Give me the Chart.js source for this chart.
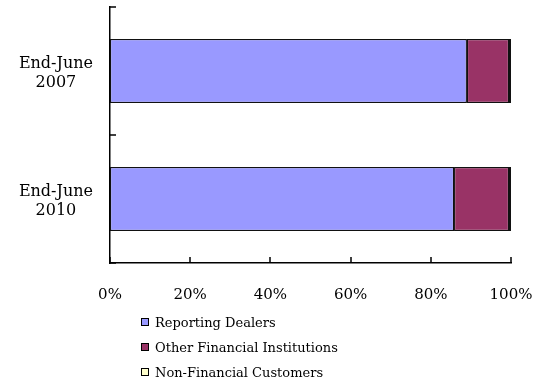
<!DOCTYPE html>
<html>
<head>
<meta charset="utf-8">
<script src="https://cdn.jsdelivr.net/npm/chart.js@4"></script>
<style>
  html, body { margin: 0; padding: 0; background: #fff; }
  #wrap { position: relative; width: 542px; height: 383px; }
  #legend { position: absolute; left: 141px; top: 313px; font: 13px "DejaVu Serif", serif; color: #000; }
  #legend div { height: 25px; line-height: 20px; white-space: nowrap; }
  #legend span { display: inline-block; width: 6px; height: 6px; border: 1px solid #000; margin-right: 6px; vertical-align: 1px; }
</style>
</head>
<body>
<div id="wrap">
  <canvas id="chart" width="542" height="383"></canvas>
  <div id="legend"></div>
</div>
<script>
/* ---------- data ---------- */
const periods = [["End-June", "2007"], ["End-June", "2010"]];
const seriesNames = ["Reporting Dealers", "Other Financial Institutions", "Non-Financial Customers"];
const reportingDealers = [89.0, 85.8];
const otherFinancial = [10.5, 13.7];
const nonFinancial = [0.5, 0.5];
const xTicks = [0, 20, 40, 60, 80, 100];
const colors = ["#9999FF", "#993366", "#FFFFCC"];

/* ---------- inward tick marks ---------- */
const innerTicks = {
  id: "innerTicks",
  afterDraw(chart) {
    const ctx = chart.ctx;
    const a = chart.chartArea;
    const x = chart.scales.x;
    ctx.save();
    ctx.strokeStyle = "#000";
    ctx.lineWidth = 1.5;
    ctx.beginPath();
    xTicks.forEach(v => {
      const px = Math.round(x.getPixelForValue(v));
      ctx.moveTo(px, a.bottom);
      ctx.lineTo(px, a.bottom - 6);
    });
    // category boundaries on the y axis
    const step = (a.bottom - a.top) / periods.length;
    for (let i = 0; i <= periods.length; i++) {
      const py = Math.round(a.top + i * step);
      ctx.moveTo(a.left, py);
      ctx.lineTo(a.left + 6, py);
    }
    ctx.stroke();
    ctx.restore();
  }
};

const data = [reportingDealers, otherFinancial, nonFinancial];

new Chart(document.getElementById("chart"), {
  type: "bar",
  data: {
    labels: periods,
    datasets: seriesNames.map((name, i) => ({
      label: name,
      data: data[i],
      backgroundColor: colors[i],
      borderColor: "#111",
      borderWidth: 1.2,
      borderSkipped: false,
      categoryPercentage: 0.5,
      barPercentage: 1.0
    }))
  },
  options: {
    indexAxis: "y",
    responsive: false,
    animation: false,
    layout: { padding: { top: 7, right: 31, bottom: 0, left: 0 } },
    plugins: { legend: { display: false }, tooltip: { enabled: false } },
    scales: {
      x: {
        stacked: true,
        min: 0,
        max: 100,
        afterFit(s) { s.height = 120; s.paddingLeft = 0; s.paddingRight = 0; },
        afterBuildTicks(s) { s.ticks = xTicks.map(v => ({ value: v })); },
        grid: { display: false, drawTicks: false },
        border: { display: true, color: "#000", width: 1.5 },
        ticks: {
          padding: 23,
          color: "#000",
          font: { family: "DejaVu Serif", size: 15 },
          callback: v => v + "%"
        }
      },
      y: {
        stacked: true,
        afterFit(s) { s.width = 110; s.paddingTop = 0; s.paddingBottom = 0; },
        grid: { display: false, drawTicks: false },
        border: { display: true, color: "#000", width: 1.5 },
        ticks: {
          padding: 17,
          labelOffset: 2,
          crossAlign: "center",
          color: "#000",
          font: { family: "DejaVu Serif", size: 16 }
        }
      }
    }
  },
  plugins: [innerTicks]
});

/* ---------- legend ---------- */
const legend = document.getElementById("legend");
seriesNames.forEach((name, i) => {
  const row = document.createElement("div");
  const box = document.createElement("span");
  box.style.background = colors[i];
  row.appendChild(box);
  row.appendChild(document.createTextNode(name));
  legend.appendChild(row);
});
</script>
</body>
</html>
